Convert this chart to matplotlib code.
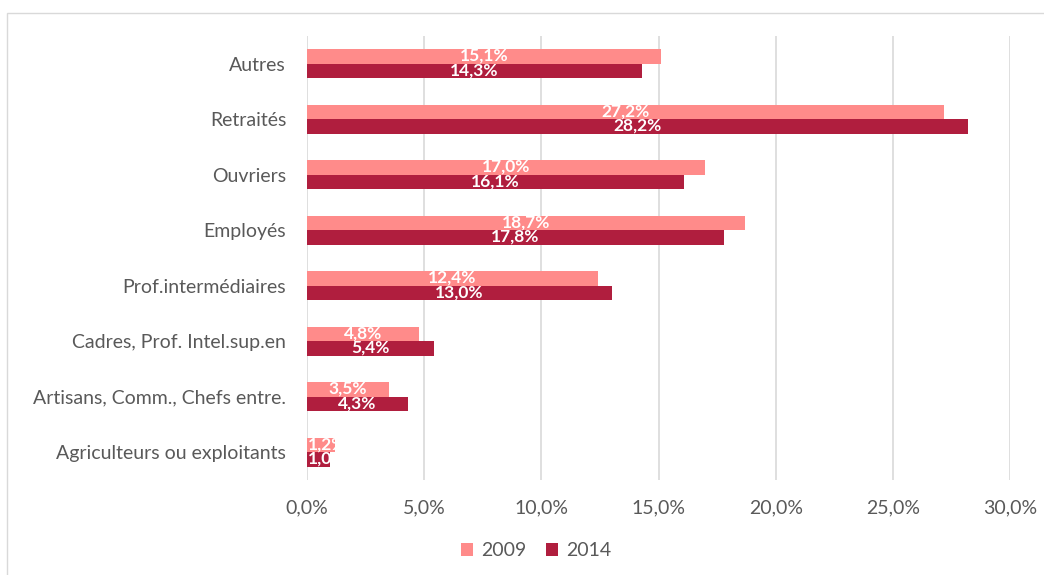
import matplotlib
matplotlib.use("Agg")
import matplotlib.pyplot as plt
from matplotlib.patches import Rectangle
import numpy as np

categories = ["Agriculteurs ou exploitants", "Artisans, Comm., Chefs entre.",
              "Cadres, Prof. Intel.sup.en", "Prof.intermédiaires", "Employés",
              "Ouvriers", "Retraités", "Autres"]
v2009 = [1.2, 3.5, 4.8, 12.4, 18.7, 17.0, 27.2, 15.1]
v2014 = [1.0, 4.3, 5.4, 13.0, 17.8, 16.1, 28.2, 14.3]
series_names = ["2009", "2014"]
xticks = [0, 5, 10, 15, 20, 25, 30]

c09 = "#FF8B8A"
c14 = "#B01E3E"
grey = "#595959"
plt.rcParams['font.family'] = ['Lato', 'DejaVu Sans']

fig = plt.figure(figsize=(10.44, 5.75), dpi=100)
ax = fig.add_axes([307/1044, 1-480/575, (1010-307)/1044, (480-36)/575])

y = np.arange(len(categories))
h = 0.26
b1 = ax.barh(y + h/2, v2009, height=h, color=c09, label=series_names[0], zorder=2)
b2 = ax.barh(y - h/2, v2014, height=h, color=c14, label=series_names[1], zorder=2)

def fmt(v):
    return f"{v:.1f}".replace(".", ",") + "%"

for bars, vals in ((b1, v2009), (b2, v2014)):
    for bar, v in zip(bars, vals):
        if v < 2:
            xpos, ha = 0.05, "left"
        else:
            xpos, ha = v/2, "center"
        t = ax.text(xpos, bar.get_y() + bar.get_height()/2 + 0.01, fmt(v),
                    ha=ha, va="center", color="white", fontweight="bold",
                    fontsize=12.5, zorder=3)
        t.set_clip_path(bar)

ax.set_xlim(0, 30)
ax.set_ylim(-0.5, len(categories) - 0.5)
ax.set_xticks(xticks)
ax.set_xticklabels([fmt(float(t)) for t in xticks], color=grey, fontsize=14)
ax.set_yticks(y)
ax.set_yticklabels(categories, color=grey, fontsize=14)
ax.tick_params(length=0)
ax.tick_params(axis='y', pad=15)
ax.tick_params(axis='x', pad=14)
ax.xaxis.grid(True, color="#D9D9D9", linewidth=1.2, zorder=0)
ax.set_axisbelow(True)
for s in ax.spines.values():
    s.set_visible(False)

leg = fig.legend(handles=[b1, b2], labels=series_names, loc="center",
                 bbox_to_anchor=(536/1044, 1-551/575), ncol=2, frameon=False,
                 fontsize=14, handlelength=0.65, handleheight=0.65, columnspacing=1.0,
                 handletextpad=0.4)
for t in leg.get_texts():
    t.set_color(grey)

fig.patches.append(Rectangle((7/1044, -0.01), 1.0, 1-13/575 + 0.01, transform=fig.transFigure,
                             fill=False, edgecolor="#D9D9D9", linewidth=1))

fig.savefig("out.png", dpi=100)
